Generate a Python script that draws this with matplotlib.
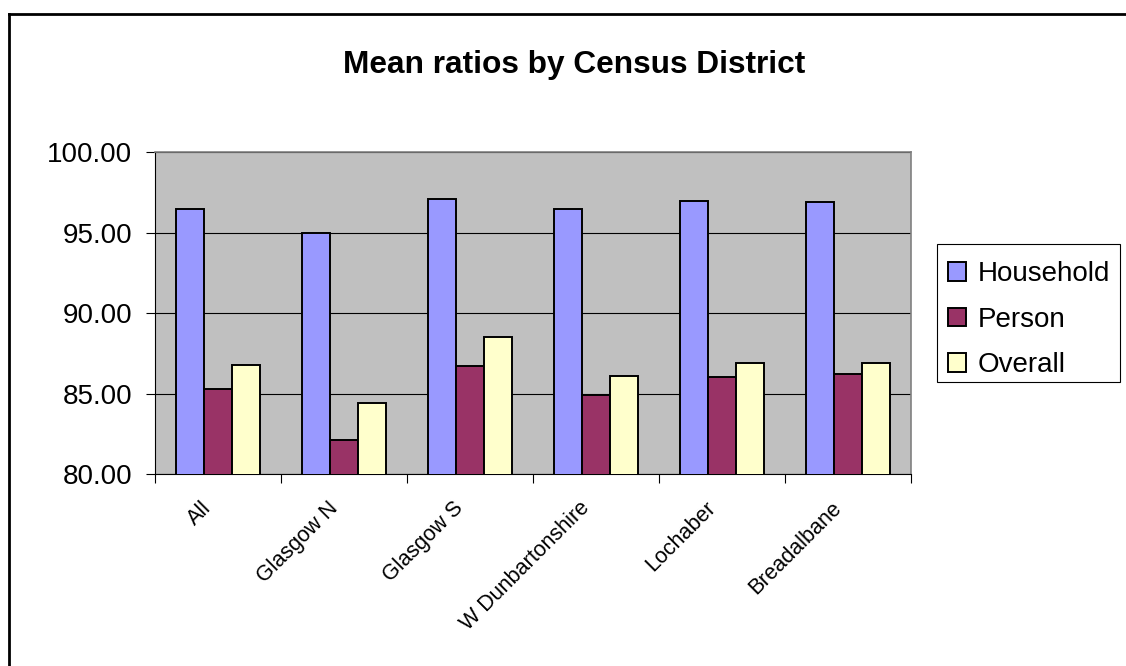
import numpy as np
import matplotlib
matplotlib.use("Agg")
import matplotlib.pyplot as plt
from matplotlib.lines import Line2D
from matplotlib.patches import Rectangle
from matplotlib.transforms import ScaledTranslation

plt.rcParams['font.family'] = ['Liberation Sans', 'DejaVu Sans']

districts = ["All", "Glasgow N", "Glasgow S", "W Dunbartonshire", "Lochaber", "Breadalbane"]
household = [96.5, 95.0, 97.1, 96.5, 97.0, 96.9]
person = [85.3, 82.1, 86.7, 84.9, 86.0, 86.2]
overall = [86.8, 84.4, 88.5, 86.1, 86.9, 86.9]
series = ["Household", "Person", "Overall"]
colours = ["#9999FF", "#993366", "#FFFFCC"]

W, H = 1126, 666
fig = plt.figure(figsize=(W / 100, H / 100), dpi=100)
fig.patch.set_facecolor("white")

# plot area in pixel terms
left, right, top, bottom = 155, 911, 152.3, 474
ax = fig.add_axes([left / W, 1 - bottom / H, (right - left) / W, (bottom - top) / H])
ax.set_facecolor("#C0C0C0")

x = np.arange(len(districts))
bw = 0.222
for k, (vals, name, col) in enumerate(zip([household, person, overall], series, colours)):
    ax.bar(x + (k - 1) * bw, vals, bw, color=col, edgecolor="black", linewidth=1.4,
           label=name, zorder=3)

ax.set_ylim(80, 100)
ax.set_xlim(-0.5, len(districts) - 0.5)
ax.set_yticks(np.arange(80, 100.1, 5))
ax.set_yticklabels(["%.2f" % v for v in np.arange(80, 100.1, 5)], fontsize=20)
ax.yaxis.grid(True, color="black", linewidth=0.8, zorder=1)
ax.set_axisbelow(True)
ax.tick_params(axis="y", direction="out", length=6.5, width=0.8, pad=10, colors="black")

# boundary ticks on x, labels on minor ticks at the category centres
ax.set_xticks(np.arange(-0.5, len(districts), 1))
ax.set_xticklabels([])
ax.tick_params(axis="x", which="major", direction="out", length=6.5, width=0.8)
ax.set_xticks(x, districts, minor=True)
ax.tick_params(axis="x", which="minor", length=0, pad=17, labelsize=15.5)
shift = ScaledTranslation(-17 / 100, 0, fig.dpi_scale_trans)
for lab in ax.get_xticklabels(minor=True):
    lab.set_rotation(45)
    lab.set_ha("right")
    lab.set_va("top")
    lab.set_rotation_mode("anchor")
    lab.set_transform(lab.get_transform() + shift)

for s in ["left", "bottom"]:
    ax.spines[s].set_color("black")
    ax.spines[s].set_linewidth(0.8)
for s in ["top", "right"]:
    ax.spines[s].set_color("#808080")
    ax.spines[s].set_linewidth(1.2)

fig.text(574 / W, 1 - 73.5 / H, "Mean ratios by Census District", ha="center", va="baseline",
         fontsize=22.8, fontweight="bold")

# legend entries without frame, box drawn separately
leg = fig.legend(loc="upper left", bbox_to_anchor=(937 / W, 1 - 250 / H), borderaxespad=0,
                 fontsize=20, frameon=False,
                 handlelength=0.65, handleheight=0.65, handletextpad=0.43,
                 borderpad=0.4, labelspacing=0.7)
fig.add_artist(Rectangle((937 / W, 1 - 382 / H), 183 / W, 138 / H, transform=fig.transFigure,
                         facecolor="white", edgecolor="black", linewidth=0.8, zorder=0))

# chart border
fig.add_artist(Line2D([9 / W, 9 / W], [0, 1 - 14 / H], color="black", linewidth=2))
fig.add_artist(Line2D([9 / W, 1], [1 - 14 / H, 1 - 14 / H], color="black", linewidth=2))

fig.savefig("out.png", dpi=100)
